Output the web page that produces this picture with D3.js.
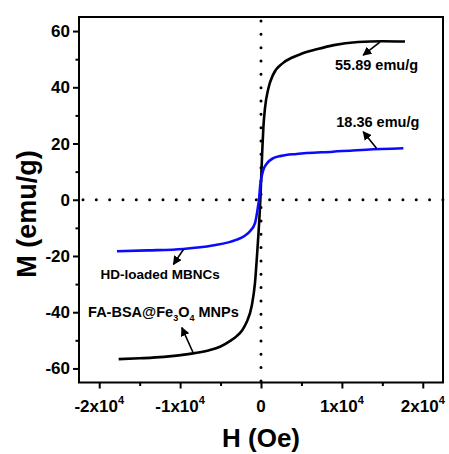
<!DOCTYPE html>
<html>
<head>
<meta charset="utf-8">
<script src="https://cdn.jsdelivr.net/npm/d3@7"></script>
<style>
  body { margin: 0; background: #fff; }
  text { font-family: "Liberation Sans", Arial, sans-serif; font-weight: bold; fill: #000; }
</style>
</head>
<body>
<div id="chart"></div>
<script>
// magnetization curves
var feH = [-17600, -15000, -12000, -9000, -6500, -5000, -3800, -3000, -2300, -1800, -1150, -740, -450, -80, 160, 300, 490, 900, 1500, 2700, 3800, 5000, 7000, 9000, 12000, 15000, 17800];
var feM = [-56.7, -56.4, -55.9, -54.9, -53.6, -52.2, -50.2, -48.5, -46.3, -43.7, -37.8, -29.5, -18, 0, 17.7, 26, 32.5, 39.5, 44.5, 48.6, 50.5, 51.9, 53.6, 55, 56.1, 56.4, 56.3];

var hdH = [-17800, -14000, -9600, -6000, -3000, -2000, -1360, -740, -400, -250, -100, 100, 290, 700, 1520, 2500, 4400, 8900, 13000, 17600];
var hdM = [-18.3, -18.0, -17.5, -16.3, -14.2, -12.8, -11.2, -8.3, -3, 0, 5, 8.5, 10.6, 12.8, 14.8, 15.6, 16.3, 17.1, 17.8, 18.3];

var xMajor = [-20000, -10000, 0, 10000, 20000];
var xMinor = [-15000, -5000, 5000, 15000];
var yMajor = [-60, -40, -20, 0, 20, 40, 60];
var yMinor = [-50, -30, -10, 10, 30, 50];

(function() {
var width = 449, height = 454;
var mLeft = 79, mRight = 443, mTop = 17, mBottom = 382.5;

var svg = d3.select("#chart").append("svg")
  .attr("width", width)
  .attr("height", height);

var x = d3.scaleLinear().domain([-22500, 22500]).range([mLeft, mRight]);
var y = d3.scaleLinear().domain([-65, 65]).range([mBottom, mTop]);

var defs = svg.append("defs");
defs.append("marker")
  .attr("id", "head")
  .attr("viewBox", "0 0 10 10")
  .attr("refX", 9).attr("refY", 5)
  .attr("markerWidth", 9).attr("markerHeight", 9)
  .attr("markerUnits", "userSpaceOnUse")
  .attr("orient", "auto")
  .append("path")
  .attr("d", "M0,0 L10,5 L0,10 Z")
  .attr("fill", "#000");

// dotted zero lines
svg.append("line")
  .attr("x1", x(0)).attr("x2", x(0))
  .attr("y1", mTop + 4).attr("y2", mBottom)
  .attr("stroke", "#000").attr("stroke-width", 3)
  .attr("stroke-linecap", "round")
  .attr("stroke-dasharray", "0,13.33");
svg.append("line")
  .attr("x1", mLeft + 4).attr("x2", mRight)
  .attr("y1", y(0)).attr("y2", y(0))
  .attr("stroke", "#000").attr("stroke-width", 3)
  .attr("stroke-linecap", "round")
  .attr("stroke-dasharray", "0,13.33");

var line = d3.line()
  .x(function(d) { return x(d[0]); })
  .y(function(d) { return y(d[1]); })
  .curve(d3.curveMonotoneX);

svg.append("path")
  .datum(d3.zip(feH, feM))
  .attr("d", line)
  .attr("fill", "none")
  .attr("stroke", "#000")
  .attr("stroke-width", 2.6);

svg.append("path")
  .datum(d3.zip(hdH, hdM))
  .attr("d", line)
  .attr("fill", "none")
  .attr("stroke", "#0a0aff")
  .attr("stroke-width", 2.6);

// axes
var xAxis = svg.append("g").attr("transform", "translate(0," + mBottom + ")");
xAxis.call(d3.axisBottom(x).tickValues(xMajor).tickSize(6).tickFormat(""));
xAxis.append("g").call(d3.axisBottom(x).tickValues(xMinor).tickSize(3.5).tickFormat(""));
var yAxis = svg.append("g").attr("transform", "translate(" + mLeft + ",0)");
yAxis.call(d3.axisLeft(y).tickValues(yMajor).tickSize(6).tickFormat(""));
yAxis.append("g").call(d3.axisLeft(y).tickValues(yMinor).tickSize(3.5).tickFormat(""));
svg.selectAll(".domain").remove();
svg.selectAll(".tick line").attr("stroke", "#000").attr("stroke-width", 2);

svg.append("rect")
  .attr("x", mLeft).attr("y", mTop)
  .attr("width", mRight - mLeft).attr("height", mBottom - mTop)
  .attr("fill", "none")
  .attr("stroke", "#000")
  .attr("stroke-width", 2);

// tick labels
svg.selectAll(".ylab").data(yMajor).enter().append("text")
  .attr("class", "ylab")
  .attr("x", mLeft - 9)
  .attr("y", function(d) { return y(d) + 6; })
  .attr("text-anchor", "end")
  .style("font-size", "17px")
  .text(function(d) { return d; });

var xl = svg.selectAll(".xlab").data(xMajor).enter().append("text")
  .attr("class", "xlab")
  .attr("x", function(d) { return x(d); })
  .attr("y", 411.5)
  .attr("text-anchor", "middle")
  .style("font-size", "17px");
xl.append("tspan").text(function(d) { return d === 0 ? "0" : (d / 10000) + "x10"; });
xl.filter(function(d) { return d !== 0; }).append("tspan")
  .attr("dy", -8)
  .style("font-size", "11px")
  .text("4");

// axis titles
svg.append("text")
  .attr("x", x(0)).attr("y", 447)
  .attr("text-anchor", "middle")
  .style("font-size", "26px")
  .text("H (Oe)");
svg.append("text")
  .attr("transform", "translate(36,214) rotate(-90)")
  .attr("text-anchor", "middle")
  .style("font-size", "27px")
  .text("M (emu/g)");

// annotations
var arrows = [
  [[14700, 56.1], [12630, 51.4]],
  [[14280, 18.3], [12630, 24.2]],
  [[-9590, -17.7], [-10830, -23]],
  [[-8360, -54.6], [-9790, -45.5]]
];
svg.selectAll(".arrow").data(arrows).enter().append("line")
  .attr("class", "arrow")
  .attr("x1", function(d) { return x(d[0][0]); })
  .attr("y1", function(d) { return y(d[0][1]); })
  .attr("x2", function(d) { return x(d[1][0]); })
  .attr("y2", function(d) { return y(d[1][1]); })
  .attr("stroke", "#000")
  .attr("stroke-width", 1.6)
  .attr("marker-end", "url(#head)");

svg.append("text").attr("x", x(14280)).attr("y", y(46.1))
  .attr("text-anchor", "middle").style("font-size", "14.5px").text("55.89 emu/g");
svg.append("text").attr("x", x(14440)).attr("y", y(26))
  .attr("text-anchor", "middle").style("font-size", "14.5px").text("18.36 emu/g");
svg.append("text").attr("x", x(-12470)).attr("y", y(-28.2))
  .attr("text-anchor", "middle").style("font-size", "13.5px").text("HD-loaded MBNCs");

var fa = svg.append("text").attr("x", x(-12060)).attr("y", y(-41.8))
  .attr("text-anchor", "middle").style("font-size", "14.5px");
fa.append("tspan").text("FA-BSA@Fe");
fa.append("tspan").attr("dy", 4).style("font-size", "9px").text("3");
fa.append("tspan").attr("dy", -4).text("O");
fa.append("tspan").attr("dy", 4).style("font-size", "9px").text("4");
fa.append("tspan").attr("dy", -4).text(" MNPs");
})();
</script>
</body>
</html>
